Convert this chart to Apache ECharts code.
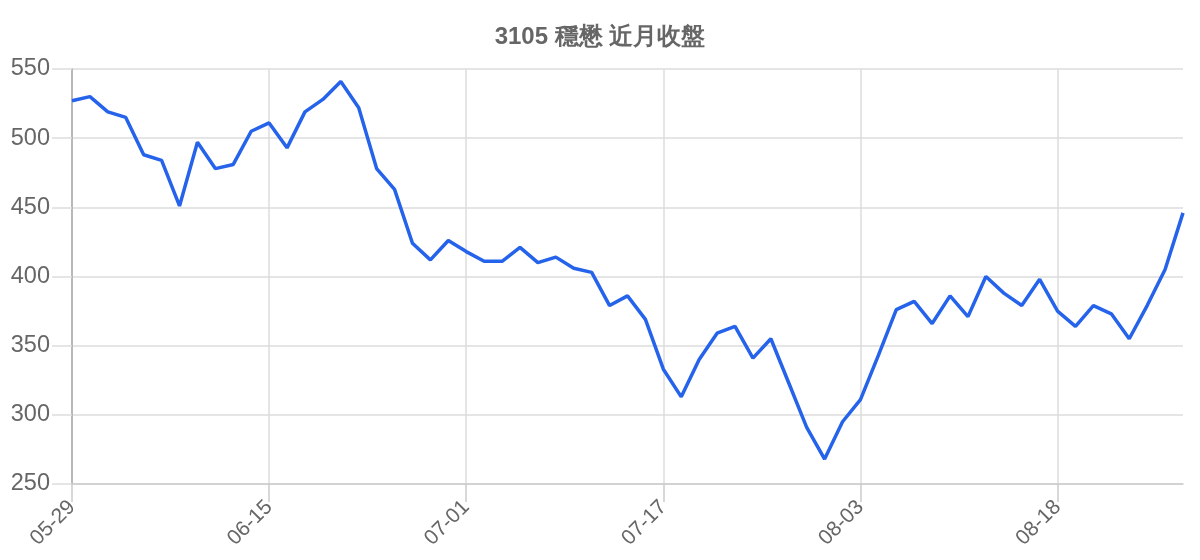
<!DOCTYPE html>
<html>
<head>
<meta charset="utf-8">
<script src="https://cdn.jsdelivr.net/npm/echarts@6/dist/echarts.min.js"></script>
<style>
  html, body { margin: 0; padding: 0; background: #fff; }
  #container { width: 1200px; height: 560px; }
</style>
</head>
<body>
<div id="container"></div>
<script>
var dates = [
  '05-29', '06-01', '06-02', '06-03', '06-04', '06-05', '06-08', '06-09', '06-10', '06-11', '06-12',
  '06-15', '06-16', '06-17', '06-18', '06-19', '06-22', '06-23', '06-24', '06-26', '06-29', '06-30',
  '07-01', '07-02', '07-06', '07-07', '07-08', '07-09', '07-10', '07-13', '07-14', '07-15', '07-16',
  '07-17', '07-20', '07-21', '07-22', '07-23', '07-24', '07-27', '07-28', '07-29', '07-30', '07-31',
  '08-03', '08-04', '08-05', '08-06', '08-07', '08-10', '08-11', '08-12', '08-13', '08-14', '08-17',
  '08-18', '08-19', '08-20', '08-21', '08-24', '08-25', '08-26', '08-27'
];
var closes = [
  527, 530, 519, 515, 488, 484, 451, 497, 478, 481, 505,
  511, 493, 519, 528, 541, 522, 478, 463, 424, 412, 426,
  418, 411, 411, 421, 410, 414, 406, 403, 379, 386, 369,
  333, 313, 340, 359, 364, 341, 355, 323, 291, 268, 295,
  311, 343, 376, 382, 366, 386, 371, 400, 388, 379, 398,
  375, 364, 379, 373, 355, 379, 405, 446
];
var title = '3105 穩懋 近月收盤';

var dom = document.getElementById('container');
var myChart = echarts.init(dom);

var option = {
  animation: false,
  title: {
    text: title,
    left: 'center',
    top: 20,
    textStyle: { fontSize: 24, fontWeight: 'bold', color: '#666', fontFamily: 'Liberation Sans, Arial, sans-serif' }
  },
  grid: { left: 72, right: 17, top: 69, bottom: 76, containLabel: false },
  xAxis: {
    type: 'category',
    boundaryGap: false,
    data: dates,
    axisLine: { lineStyle: { color: '#ccc', width: 1.5 } },
    axisTick: { show: true, interval: 10, length: 18, lineStyle: { color: '#ccc', width: 1.5 } },
    splitLine: { show: true, interval: 10, lineStyle: { color: '#ddd', width: 1.5 } },
    axisLabel: {
      interval: 10,
      rotate: 45,
      margin: 20,
      fontSize: 21,
      color: '#666',
      fontFamily: 'Liberation Sans, Arial, sans-serif'
    }
  },
  yAxis: {
    type: 'value',
    min: 250,
    max: 550,
    interval: 50,
    axisLine: { show: true, lineStyle: { color: '#aaa', width: 1.5 } },
    axisTick: { show: true, length: 20, lineStyle: { color: '#ddd', width: 1.5 } },
    splitLine: { lineStyle: { color: '#ddd', width: 1.5 } },
    axisLabel: { fontSize: 23.5, color: '#666', margin: 22, fontFamily: 'Liberation Sans, Arial, sans-serif' }
  },
  series: [
    {
      type: 'line',
      data: closes,
      showSymbol: false,
      lineStyle: { color: '#2563eb', width: 3.5 },
      itemStyle: { color: '#2563eb' }
    }
  ]
};

myChart.setOption(option);
</script>
</body>
</html>
